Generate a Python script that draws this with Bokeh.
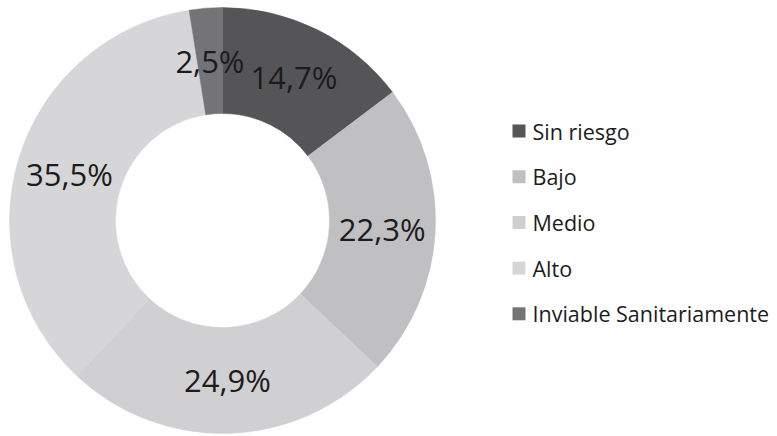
import numpy as np
from bokeh.plotting import figure
from bokeh.models import Range1d, ColumnDataSource
from bokeh.core.properties import value
from bokeh.embed import file_html
from bokeh.resources import INLINE

categories = ["Sin riesgo", "Bajo", "Medio", "Alto", "Inviable Sanitariamente"]
percent = [14.7, 22.3, 24.9, 35.5, 2.5]
colors = ["#555557", "#c0c0c2", "#d0d0d2", "#d6d6d8", "#747476"]

W, H = 777, 436
cx, cy = 222, H - 220
r_out, r_in = 213, 107
r_lab = 160

vals = np.array(percent, dtype=float)
frac = vals / vals.sum()
cum_end = np.cumsum(frac) * 2 * np.pi
cum_start = cum_end - frac * 2 * np.pi
start = np.pi / 2 - cum_end
end = np.pi / 2 - cum_start
mid = (start + end) / 2

labels = [f"{v:.1f}%".replace(".", ",") for v in percent]

src = ColumnDataSource(dict(
    cat=categories, color=colors, start=start, end=end,
    lx=cx + r_lab * np.cos(mid), ly=cy + r_lab * np.sin(mid), label=labels,
))

p = figure(width=W, height=H, x_range=Range1d(0, W), y_range=Range1d(0, H),
           output_backend="svg", toolbar_location=None,
           x_axis_type=None, y_axis_type=None, min_border=0)
p.grid.visible = False
p.outline_line_color = None
p.background_fill_color = "white"
p.border_fill_color = "white"

p.annular_wedge(x=cx, y=cy, inner_radius=r_in, outer_radius=r_out,
                start_angle="start", end_angle="end", fill_color="color",
                line_color="color", line_width=0.5, source=src)

p.text(x="lx", y="ly", text="label", source=src, text_align="center",
       text_baseline="middle", text_font=value("Open Sans"),
       text_font_size="31px", text_color="#1c1c1c")

# legend
n = len(categories)
leg_y = H - (130.5 + 45.7 * np.arange(n))
leg_src = ColumnDataSource(dict(y=leg_y, x=[518.5] * n, tx=[532] * n,
                                cat=categories, color=colors))
p.rect(x="x", y="y", width=13, height=13, fill_color="color",
       line_color=None, source=leg_src)
p.text(x="tx", y="y", text="cat", source=leg_src, text_align="left",
       text_baseline="middle", text_font=value("Open Sans"),
       text_font_size="21.5px", text_color="#1c1c1c")

open("out.html", "w").write(file_html(p, INLINE))
